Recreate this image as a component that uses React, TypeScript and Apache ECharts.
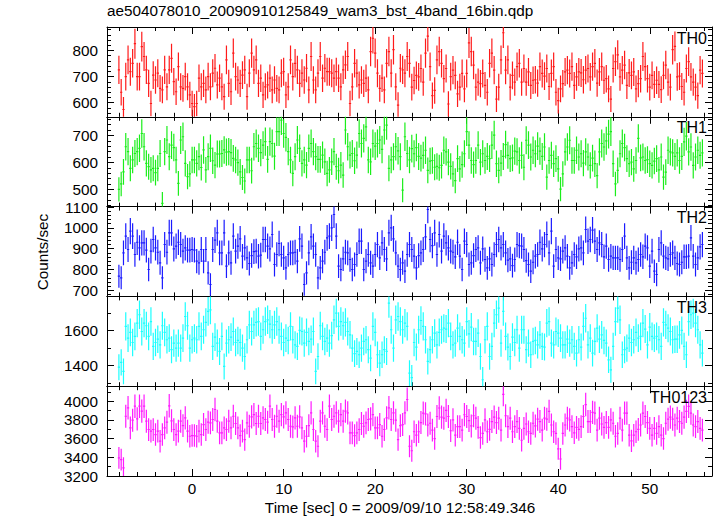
import React, { useEffect, useRef } from 'react';
import * as echarts from 'echarts';

const TITLE = 'ae504078010_20090910125849_wam3_bst_4band_16bin.qdp';
const X_TITLE = 'Time [sec] 0 = 2009/09/10 12:58:49.346';
const Y_TITLE = 'Counts/sec';

const T_START = -8;
const BIN_WIDTH = 0.25;
const X_MIN = -9.3;
const X_MAX = 56.8;

const PANEL_NAMES = ['TH0', 'TH1', 'TH2', 'TH3', 'TH0123'];
const PANEL_COLORS = ['#ff1a1a', '#1aee1a', '#1a1aff', '#1affff', '#ff1aff'];
const Y_MINS = [546, 436, 671, 1281, 3200];
const Y_MAXS = [890, 769, 1102, 1795, 4160];
const Y_SPLITS = [3, 3, 4, 3, 5];
const Y_MINOR_SPLITS = [5, 5, 5, 2, 2];

const TH0 = [
  726,640,574,700,764,719,751,826,700,700,
  815,777,726,674,597,706,687,713,655,649,
  726,661,726,770,681,642,738,661,655,700,
  661,630,597,585,597,694,661,674,649,700,
  661,713,732,668,694,661,623,764,674,642,
  790,700,687,674,706,726,623,713,790,726,
  764,674,694,630,661,668,694,649,687,655,
  649,713,719,630,661,764,700,751,726,674,
  713,687,732,649,777,687,649,713,777,694,
  732,719,719,713,694,719,694,661,726,745,
  777,597,661,751,713,668,687,674,694,649,
  796,847,790,713,655,694,649,751,796,713,
  803,661,591,732,726,713,777,751,
  660,685,705,699,731,679,790,855,738,627,
  647,764,796,751,692,731,595,700,725,705,
  634,660,712,653,712,829,796,744,660,679,
  673,712,666,640,751,790,725,614,660,764,
  868,725,764,660,705,679,738,751,679,731,
  679,718,666,686,688,675,738,712,702,731,
  662,712,738,640,608,653,673,718,725,712,
  738,666,699,718,714,688,725,731,699,738,
  751,675,718,738,686,692,653,614,731,757,
  783,699,725,744,666,714,705,718,653,673,
  692,777,738,692,660,705,670,686,670,650,
  705,744,679,660,803,816,699,702,662,640,
  731,757,699,679,660,627,725,712,
];

const TH1 = [
  500,520,565,658,640,578,609,633,640,652,
  707,658,596,584,572,578,562,578,633,448,
  640,683,621,664,655,609,522,683,695,596,
  547,557,609,609,596,621,581,646,572,621,
  652,606,590,631,631,633,646,638,640,636,
  615,609,599,565,544,531,609,609,569,658,
  670,652,636,664,677,611,677,670,623,714,
  714,757,707,693,640,609,559,621,683,652,
  596,609,590,652,670,640,621,611,611,627,
  602,559,572,602,640,584,569,590,553,720,
  658,627,633,606,627,707,670,689,732,609,
  602,670,660,670,683,648,720,738,578,609,
  621,658,643,621,497,695,633,609,
  651,632,655,622,616,626,645,570,605,607,
  582,585,580,589,645,639,601,585,557,532,
  614,576,592,632,714,664,607,592,607,664,
  601,632,607,622,614,664,701,595,570,597,
  622,666,626,614,617,642,639,607,626,582,
  682,664,620,645,632,660,642,622,657,545,
  607,626,595,614,576,501,557,639,657,682,
  607,607,645,620,632,597,639,620,589,616,
  595,551,639,670,657,680,705,714,595,520,
  570,632,670,655,614,595,601,576,607,689,
  617,620,607,610,595,589,605,614,572,620,
  545,564,645,639,635,622,635,607,622,676,
  697,639,657,589,620,645,626,635,
];

const TH2 = [
  768,760,880,960,896,984,960,872,931,904,
  928,928,893,800,888,944,904,883,832,760,
  920,883,976,976,899,912,931,920,888,904,
  893,893,896,893,840,832,896,840,896,784,
  728,896,941,976,880,880,976,816,880,832,
  960,888,912,947,864,904,856,829,867,886,
  888,864,869,944,944,912,899,968,824,872,
  925,872,856,808,872,880,880,883,840,947,
  912,728,784,880,957,912,872,760,808,840,
  883,952,960,1000,1064,960,816,800,851,883,
  880,848,800,824,872,936,936,800,840,872,
  832,816,872,920,856,928,896,851,976,1000,
  947,880,816,800,832,792,872,920,
  896,864,808,867,880,896,957,1088,944,915,
  976,872,968,888,960,928,904,888,883,861,
  931,864,800,936,920,824,832,867,896,904,
  832,899,848,808,851,824,872,920,944,904,
  920,880,845,851,819,848,920,915,912,896,
  843,824,792,835,864,872,931,899,920,968,
  880,984,816,896,856,851,888,904,864,808,
  832,872,861,899,904,880,992,936,944,989,
  936,896,928,920,861,912,848,864,856,856,
  856,848,896,960,856,808,835,856,832,848,
  872,861,912,904,816,888,792,776,896,928,
  864,856,851,872,880,856,829,824,835,861,
  861,864,952,864,824,856,909,920,
];

const TH3 = [
  1390,1417,1366,1623,1556,1589,1531,1566,1642,1690,
  1594,1642,1627,1566,1651,1509,1531,1550,1518,1627,
  1589,1547,1556,1490,1528,1499,1528,1499,1556,1680,
  1627,1499,1547,1556,1547,1623,1566,1604,1646,1709,
  1718,1509,1562,1528,1480,1566,1394,1528,1547,1562,
  1594,1531,1543,1531,1499,1451,1547,1632,1594,1632,
  1646,1651,1566,1604,1651,1661,1636,1604,1632,1651,
  1604,1566,1531,1556,1543,1623,1547,1518,1509,1600,
  1594,1528,1589,1537,1550,1594,1366,1451,1627,1566,
  1537,1556,1528,1570,1661,1699,1623,1651,1627,1646,
  1594,1575,1499,1467,1480,1461,1499,1537,1547,1490,
  1442,1623,1589,1461,1413,1461,1490,1480,1756,1604,
  1499,1661,1680,1651,1604,1642,1623,1356,
  1330,1531,1505,1604,1657,1623,1547,1423,1490,1547,
  1585,1518,1589,1604,1613,1608,1642,1566,1518,1528,
  1613,1566,1547,1528,1651,1581,1619,1537,1537,1585,
  1451,1318,1547,1623,1451,1509,1642,1690,1728,1528,
  1709,1566,1505,1451,1562,1531,1604,1499,1604,1604,
  1490,1528,1461,1537,1543,1518,1575,1509,1505,1642,
  1651,1528,1518,1594,1585,1556,1518,1518,1550,1528,
  1547,1509,1470,1547,1505,1623,1670,1518,1556,1470,
  1537,1613,1550,1575,1543,1528,1432,1375,1509,1651,
  1728,1661,1461,1490,1499,1556,1531,1547,1589,1556,
  1566,1642,1608,1518,1619,1566,1556,1566,1547,1509,
  1646,1632,1613,1594,1547,1550,1550,1575,1600,1509,
  1461,1651,1690,1699,1642,1604,1518,1470,
];

const TH0123 = [
  3393,3375,3286,3839,3929,3714,3797,3946,3811,3946,
  3893,3946,3786,3697,3679,3697,3643,3679,3572,3643,
  3714,3775,3950,3790,3697,3643,3679,3786,3739,3821,
  3679,3625,3632,3632,3625,3679,3643,3750,3697,3775,
  3768,3804,3911,3786,3661,3661,3714,3697,3786,3714,
  3839,3761,3714,3632,3679,3589,3768,3732,3832,3857,
  3761,3839,3761,3821,3804,3775,3946,3804,3732,3839,
  3786,3857,3832,3875,3804,3732,3725,3821,3732,3832,
  3714,3572,3625,3739,3875,3697,3572,3518,3786,3875,
  3732,3697,3946,3804,3839,3875,3786,3857,3786,3893,
  3875,3661,3661,3632,3661,3697,3761,3732,3768,3804,
  3811,3857,3714,3714,3750,3625,3697,3821,3929,3804,
  3875,3797,3589,3739,3750,3875,4018,3518,
  3470,3673,3636,3673,3771,3873,3865,3745,3764,3691,
  3600,3836,3927,3829,3818,3902,3836,3684,3800,3636,
  3727,3727,3691,3855,3836,3793,3735,3844,3818,3720,
  3611,3655,3800,3673,3698,3782,3829,3771,3818,3691,
  4073,3844,3727,3818,3673,3727,3782,3709,3582,3709,
  3756,3673,3655,3764,3735,3807,3782,3691,3818,3807,
  3891,3745,3673,3655,3491,3382,3655,3745,3818,3800,
  3727,3662,3720,3698,3727,3836,3964,3782,3782,3880,
  3873,3691,3818,3756,3720,3771,3720,3800,3764,3625,
  3655,3818,3691,3873,3873,3636,3575,3636,3673,3698,
  3745,3873,3836,3771,3709,3636,3709,3655,3727,3636,
  3600,3764,3807,3829,3807,3745,3818,3782,3764,3829,
  3891,3945,3873,3745,3727,3782,3709,3691,
];

const PANEL_VALUES = [TH0, TH1, TH2, TH3, TH0123];

// layout
const W = 717;
const H = 516;
const PLOT_LEFT = 107;
const PLOT_RIGHT = 712;
const PLOT_TOP = 27;
const PANEL_H = 89.8;
const FONT = '"Liberation Sans", Arial, Helvetica, sans-serif';
const FS = 15.3;

function buildOption() {
  const lineStyle = { color: '#000', width: 1 };
  const grids: any[] = [];
  const xAxes: any[] = [];
  const yAxes: any[] = [];
  const series: any[] = [];
  const graphics: any[] = [];
  const plain = (v: number) => String(v);

  PANEL_NAMES.forEach((name, k) => {
    const top = PLOT_TOP + k * PANEL_H;
    grids.push({ left: PLOT_LEFT, width: PLOT_RIGHT - PLOT_LEFT, top, height: PANEL_H });
    const isLast = k === PANEL_NAMES.length - 1;
    ['bottom', 'top'].forEach((pos) => {
      xAxes.push({
        type: 'value', gridIndex: k, position: pos, min: X_MIN, max: X_MAX, splitNumber: 5,
        axisLine: { show: true, onZero: false, lineStyle },
        axisTick: { show: true, inside: true, length: 7, lineStyle },
        minorTick: { show: true, splitNumber: 5, length: 4, lineStyle },
        axisLabel: {
          show: pos === 'bottom' && isLast, showMinLabel: false, showMaxLabel: false,
          margin: 5, fontSize: FS, color: '#000', fontFamily: FONT, formatter: plain,
        },
        splitLine: { show: false },
      });
    });
    ['left', 'right'].forEach((pos) => {
      yAxes.push({
        type: 'value', gridIndex: k, position: pos, min: Y_MINS[k], max: Y_MAXS[k],
        splitNumber: Y_SPLITS[k],
        axisLine: { show: true, onZero: false, lineStyle },
        axisTick: { show: true, inside: true, length: 7, lineStyle },
        minorTick: { show: true, splitNumber: Y_MINOR_SPLITS[k], length: 4, lineStyle },
        axisLabel: {
          show: pos === 'left', showMinLabel: isLast, showMaxLabel: false,
          margin: 9, fontSize: FS, color: '#000', fontFamily: FONT, formatter: plain,
        },
        splitLine: { show: false },
      });
    });
    const color = PANEL_COLORS[k];
    const data = PANEL_VALUES[k].map((v, i) => [T_START + i * BIN_WIDTH, v, 2 * Math.sqrt(v)]);
    series.push({
      type: 'custom', xAxisIndex: 2 * k, yAxisIndex: 2 * k, clip: true, silent: true,
      data,
      renderItem: (params: any, api: any) => {
        const t = api.value(0);
        const v = api.value(1);
        const e = api.value(2);
        const pL = api.coord([t - BIN_WIDTH / 2, v]);
        const pR = api.coord([t + BIN_WIDTH / 2, v]);
        const pT = api.coord([t, v + e]);
        const pB = api.coord([t, v - e]);
        const style = { stroke: color, lineWidth: 1.2 };
        return {
          type: 'group',
          children: [
            { type: 'line', shape: { x1: pL[0], y1: pL[1], x2: pR[0], y2: pR[1] }, style },
            { type: 'line', shape: { x1: pT[0], y1: pT[1], x2: pB[0], y2: pB[1] }, style },
          ],
        };
      },
    });
    graphics.push({
      type: 'text', right: W - PLOT_RIGHT + 5, top: top + 3, z: 10,
      style: { text: name, fontSize: 16, fontFamily: FONT, fill: '#000' },
    });
  });

  graphics.push({
    type: 'text', left: PLOT_LEFT, top: 3,
    style: { text: TITLE, fontSize: FS, fontFamily: FONT, fill: '#000' },
  });
  graphics.push({
    type: 'text', x: 400, y: 507,
    style: { text: X_TITLE, fontSize: FS, fontFamily: FONT, fill: '#000', align: 'center', verticalAlign: 'middle' },
  });
  graphics.push({
    type: 'text', x: 42, y: 252, rotation: Math.PI / 2,
    style: { text: Y_TITLE, fontSize: FS, fontFamily: FONT, fill: '#000', align: 'center', verticalAlign: 'middle' },
  });

  return {
    animation: false,
    backgroundColor: '#fff',
    grid: grids,
    xAxis: xAxes,
    yAxis: yAxes,
    series,
    graphic: graphics,
  };
}

export default function App() {
  const ref = useRef<HTMLDivElement>(null);
  useEffect(() => {
    const chart = echarts.init(ref.current as HTMLDivElement, null, { renderer: 'svg' });
    chart.setOption(buildOption());
    return () => chart.dispose();
  }, []);
  return <div ref={ref} style={{ position: 'fixed', left: 0, top: 0, width: W, height: H }} />;
}
